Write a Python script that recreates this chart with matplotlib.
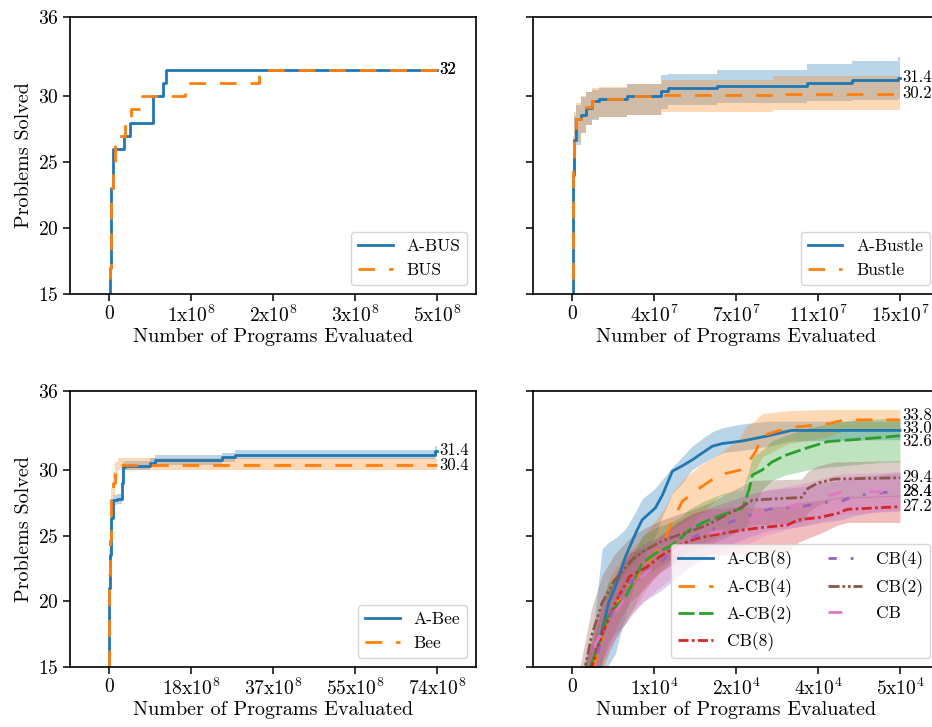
import numpy as np
import matplotlib
matplotlib.use("Agg")
import matplotlib.pyplot as plt

plt.rcParams['font.family'] = 'serif'
plt.rcParams['font.serif'] = ['cmr10', 'DejaVu Serif']
plt.rcParams['mathtext.fontset'] = 'cm'
plt.rcParams['axes.formatter.use_mathtext'] = True
plt.rcParams['axes.unicode_minus'] = False

# ---------------- data ----------------
y_ticks = [15, 20, 25, 30, 36]
x_label = "Number of Programs Evaluated"
y_label = "Problems Solved"

# Top-left: BUS (x in units of 1e8)
tl_scale = 1e8
tl_xmax = 4.6
tl_ticklabels = ['0', '1x10$^{8}$', '2x10$^{8}$', '3x10$^{8}$', '5x10$^{8}$']
abus_x = [0, 0.01, 0.03, 0.06, 0.21, 0.30, 0.61, 0.62, 0.76, 0.795, 4.6]
abus_y = [0, 17, 23, 26, 27, 28, 29, 30, 31, 32, 32]
bus_x = [0, 0.01, 0.03, 0.05, 0.084, 0.224, 0.309, 0.459, 1.066, 2.104, 4.6]
bus_y = [0, 17, 23, 25, 27, 28, 29, 30, 31, 32, 32]

# Top-right: Bustle (x in units of 1e7)
tr_scale = 1e7
tr_xmax = 14.6
tr_ticklabels = ['0', '4x10$^{7}$', '7x10$^{7}$', '11x10$^{7}$', '15x10$^{7}$']
abustle_x = [0, 0.06, 0.1, 0.16, 0.4, 0.62, 0.89, 1.22, 2.45, 3.97, 4.27, 6.46, 10.45, 12.46, 14.5, 14.6]
abustle_y = [0, 24, 26.7, 28.3, 28.6, 29.1, 29.6, 29.8, 30.0, 30.4, 30.6, 30.8, 31.0, 31.2, 31.4, 31.4]
abustle_lo = [0, 21, 24.5, 26.3, 27.2, 27.8, 28.2, 28.4, 28.6, 29.0, 29.3, 29.5, 29.6, 29.7, 29.8, 29.8]
abustle_hi = [0, 26.5, 28.5, 29.3, 29.9, 30.3, 30.5, 30.6, 30.9, 31.6, 31.7, 32.0, 32.4, 32.7, 33.0, 33.0]
bustle_x = [0, 0.06, 0.1, 0.16, 0.4, 0.62, 0.89, 1.22, 2.45, 4.0, 8.96, 14.6]
bustle_y = [0, 24.5, 26.8, 28.3, 28.7, 29.2, 29.6, 29.8, 30.0, 30.1, 30.2, 30.2]
bustle_lo = [0, 22, 25, 26.5, 27.2, 27.8, 28.3, 28.4, 28.6, 28.8, 28.95, 28.95]
bustle_hi = [0, 27, 28.8, 29.5, 30.0, 30.3, 30.6, 30.7, 30.9, 31.2, 31.5, 31.5]

# Bottom-left: Bee (x in units of 1e8)
bl_scale = 1e8
bl_xmax = 73.8
bl_ticklabels = ['0', '18x10$^{8}$', '37x10$^{8}$', '55x10$^{8}$', '74x10$^{8}$']
abee_x = [0, 0.1, 0.3, 0.45, 0.83, 1.73, 2.9, 3.1, 3.6, 9.2, 10.35, 25.4, 28.3, 73.4, 73.8]
abee_y = [0, 21, 23.5, 26.3, 27.7, 27.8, 29.0, 30.2, 30.3, 30.5, 30.75, 30.95, 31.15, 31.4, 31.4]
abee_lo = [0, 19, 22, 25, 27.3, 27.4, 28.5, 29.8, 30.0, 30.2, 30.4, 30.6, 30.8, 31.0, 31.0]
abee_hi = [0, 23, 25, 27.5, 28.1, 28.2, 29.5, 30.6, 30.7, 30.9, 31.1, 31.3, 31.5, 31.8, 31.8]
bee_x = [0, 0.1, 0.2, 0.5, 0.9, 1.35, 2.0, 73.8]
bee_y = [0, 22, 24.7, 27.7, 29.0, 29.8, 30.4, 30.4]
bee_lo = [0, 20, 23, 26.5, 28.0, 29.2, 30.0, 30.0]
bee_hi = [0, 24, 26.5, 28.6, 29.8, 30.6, 30.9, 30.9]

# Bottom-right: CB family (x in units of 1e4)
br_scale = 1e4
br_xmax = 5.0
br_ticklabels = ['0', '1x10$^{4}$', '2x10$^{4}$', '4x10$^{4}$', '5x10$^{4}$']
acb8_x = [0, 0.31, 0.38, 0.46, 0.56, 0.66, 0.815, 0.99, 1.07, 1.27, 1.38, 1.53, 1.68, 1.83, 1.99, 2.14, 2.29, 2.6, 3.0, 3.34, 5.0]
acb8_y = [10, 15, 16.5, 17.8, 19.9, 21.1, 23.4, 25.4, 26.2, 27.1, 28.1, 29.9, 30.3, 30.75, 31.3, 31.8, 32.0, 32.2, 32.6, 33.0, 33.0]
acb8_lo = [8, 13, 13.8, 14.5, 15.2, 16.0, 19.0, 22.0, 23.0, 25.0, 26.5, 28.2, 29.0, 30.0, 30.5, 30.9, 31.3, 31.5, 31.8, 32.2, 32.3]
acb8_hi = [12, 17, 20.5, 24.0, 24.5, 24.8, 25.5, 27.0, 27.8, 28.6, 29.3, 30.2, 31.0, 31.8, 32.4, 32.9, 33.2, 33.5, 33.7, 33.7, 33.7]
acb4_x = [0, 0.33, 0.46, 0.59, 0.8, 1.02, 1.2, 1.4, 1.53, 1.68, 1.94, 2.24, 2.57, 2.65, 2.8, 2.9, 3.3, 3.9, 4.15, 5.0]
acb4_y = [10, 15, 17.3, 19.0, 20.8, 22.0, 23.3, 24.5, 26.1, 27.6, 28.6, 29.6, 30.0, 30.3, 31.4, 32.6, 33.2, 33.5, 33.8, 33.8]
acb4_lo = [8, 13, 14.5, 16.5, 18.5, 20.0, 21.5, 22.5, 23.5, 25.0, 26.5, 28.0, 28.5, 29.0, 30.0, 31.0, 32.0, 32.5, 33.0, 33.0]
acb4_hi = [12, 17, 20.0, 22.0, 23.5, 24.5, 25.7, 27.0, 28.3, 29.2, 30.3, 31.2, 32.5, 33.3, 33.8, 34.3, 34.5, 34.6, 34.6, 34.6]
acb2_x = [0, 0.28, 0.36, 0.46, 0.56, 0.815, 0.97, 1.07, 1.27, 1.5, 1.68, 1.78, 2.0, 2.3, 2.6, 2.7, 2.75, 2.9, 3.05, 3.25, 3.6, 3.9, 4.3, 4.8, 5.0]
acb2_y = [10, 15, 16.1, 17.6, 19.1, 20.3, 21.85, 22.9, 23.65, 24.2, 24.9, 25.4, 26.0, 26.6, 27.1, 28.5, 29.6, 30.0, 30.6, 31.1, 31.7, 32.15, 32.3, 32.5, 32.6]
acb2_lo = [8, 13, 14.0, 15.5, 17.0, 18.3, 19.8, 21.0, 22.0, 22.8, 23.4, 23.9, 24.4, 25.0, 25.5, 26.0, 27.0, 28.5, 29.2, 29.6, 30.0, 30.2, 30.4, 30.6, 30.6]
acb2_hi = [12, 17, 18.5, 20.0, 21.5, 22.5, 24.0, 25.0, 25.6, 26.0, 26.5, 27.0, 27.6, 28.2, 28.5, 30.0, 31.0, 31.5, 32.2, 32.6, 33.2, 33.5, 33.8, 33.9, 33.9]
cb8_x = [0, 0.3, 0.47, 0.68, 0.88, 1.14, 1.34, 1.6, 1.85, 2.1, 2.57, 2.87, 3.28, 3.45, 3.8, 4.05, 4.2, 4.6, 5.0]
cb8_y = [10, 15, 17.6, 20.1, 21.9, 22.6, 23.4, 24.2, 24.7, 25.0, 25.4, 25.6, 25.8, 26.2, 26.4, 26.7, 27.0, 27.1, 27.2]
cb8_lo = [8, 13, 15.6, 18.1, 19.9, 21.1, 22.2, 23.0, 23.3, 23.5, 23.6, 23.7, 23.7, 24.5, 25.2, 25.8, 26.0, 26.0, 26.0]
cb8_hi = [12, 17, 19.6, 22.1, 23.7, 24.1, 24.9, 26.0, 26.7, 27.0, 27.2, 27.1, 27.3, 27.5, 27.7, 27.9, 28.0, 28.0, 28.1]
cb4_x = [0, 0.32, 0.5, 0.7, 0.9, 1.1, 1.35, 1.6, 1.9, 2.2, 2.5, 2.75, 3.0, 3.5, 3.8, 4.1, 4.3, 4.6, 5.0]
cb4_y = [10, 15, 17.8, 20.2, 21.5, 22.2, 23.0, 24.1, 25.0, 25.6, 26.2, 26.6, 27.0, 27.2, 27.5, 27.6, 28.0, 28.2, 28.4]
cb4_lo = [8, 13, 15.5, 17.5, 19.0, 20.0, 20.8, 21.8, 23.0, 23.8, 24.5, 25.0, 25.4, 25.7, 26.0, 26.2, 26.5, 26.8, 26.9]
cb4_hi = [12, 17, 20.0, 22.5, 23.8, 24.4, 25.0, 26.0, 26.8, 27.3, 27.8, 28.2, 28.5, 28.7, 29.0, 29.2, 29.5, 29.6, 29.8]
cb2_x = [0, 0.2, 0.3, 0.46, 0.65, 0.92, 1.12, 1.38, 1.6, 1.85, 2.1, 2.36, 2.6, 2.75, 3.5, 3.6, 3.75, 4.0, 5.0]
cb2_y = [10, 15, 17.4, 19.9, 21.6, 23.2, 23.9, 24.6, 25.0, 25.4, 25.9, 26.6, 27.2, 27.7, 27.9, 28.6, 29.0, 29.3, 29.4]
cb2_lo = [8, 13, 15.0, 17.5, 19.5, 21.2, 22.0, 22.8, 23.3, 23.8, 24.3, 24.9, 25.4, 25.8, 26.0, 26.8, 27.3, 27.8, 28.0]
cb2_hi = [12, 17, 19.5, 22.0, 23.6, 25.0, 25.6, 26.2, 26.6, 27.0, 27.5, 28.2, 28.8, 29.2, 29.3, 29.9, 30.3, 30.6, 30.7]
cb_x = [0, 0.3, 0.36, 0.56, 0.8, 1.05, 1.32, 1.6, 1.94, 2.34, 2.7, 2.93, 3.54, 4.1, 4.76, 5.0]
cb_y = [10, 15, 16.8, 18.4, 20.2, 21.8, 22.9, 23.9, 25.0, 25.4, 26.2, 26.8, 27.5, 28.3, 28.35, 28.4]
cb_lo = [8, 13, 14.8, 16.4, 18.2, 19.8, 21.0, 22.0, 23.0, 23.6, 24.4, 25.0, 25.8, 26.6, 26.8, 26.9]
cb_hi = [12, 17, 18.8, 20.4, 22.2, 23.6, 24.7, 25.7, 26.7, 27.2, 27.9, 28.4, 29.0, 29.7, 29.8, 29.9]

# ---------------- styles ----------------
C = plt.get_cmap('tab10').colors
LS_SOLID = '-'
LS_ORANGE = (0, (6, 5))
LS_GREEN = (0, (5.8, 1.6))
LS_RED = (0, (3.6, 1.2, 1, 1.2))
LS_PURPLE = (0, (3, 5, 1, 5))
LS_BROWN = (0, (4, 1, 1, 1, 1, 1))
LS_PINK = (0, (5, 10))
LW = 2.0
TICK_FS = 14
LABEL_FS = 14.5
LEG_FS = 12.5
VAL_FS = 12

W, H = 932, 727
fig = plt.figure(figsize=(W / 100, H / 100), dpi=100)
ax_w = 406 / W
rects = {
    'tl': [70 / W, 1 - 294 / H, ax_w, 277 / H],
    'tr': [533 / W, 1 - 294 / H, ax_w, 277 / H],
    'bl': [70 / W, 1 - 667 / H, ax_w, 276 / H],
    'br': [533 / W, 1 - 667 / H, ax_w, 276 / H],
}


def setup(ax, xmax, ticklabels, left):
    ax.set_xlim(-0.119 * xmax, 1.119 * xmax)
    ax.set_ylim(15, 36)
    ax.set_xticks(np.linspace(0, xmax, 5))
    ax.set_xticklabels(ticklabels)
    ax.set_yticks(y_ticks)
    if left:
        ax.set_ylabel(y_label, fontsize=LABEL_FS, labelpad=4)
    else:
        ax.set_yticklabels([])
    ax.set_xlabel(x_label, fontsize=LABEL_FS, labelpad=1)
    ax.tick_params(labelsize=TICK_FS, length=5, width=1.1, pad=3)
    for s in ax.spines.values():
        s.set_linewidth(1.2)


def end_labels(ax, xmax, vals, fmt, gap):
    uniq = sorted(set(vals), reverse=True)
    pos = list(uniq)
    for _ in range(200):
        for i in range(1, len(pos)):
            d = pos[i - 1] - pos[i]
            if d < gap:
                push = (gap - d) / 2
                pos[i - 1] += push
                pos[i] -= push
    for v in vals:
        p = pos[uniq.index(v)]
        ax.annotate(fmt.format(v), xy=(xmax, p), xytext=(1.5, 0),
                    textcoords='offset points', va='center', ha='left',
                    fontsize=VAL_FS, annotation_clip=False)


def series(ax, x, y, color, ls, label, lo=None, hi=None, step=True):
    if lo is not None:
        ax.fill_between(x, lo, hi, color=color, alpha=0.3, linewidth=0,
                        step='post' if step else None)
    ax.plot(x, y, color=color, linestyle=ls, linewidth=LW, label=label,
            drawstyle='steps-post' if step else 'default')


# Top-left
ax = fig.add_axes(rects['tl'])
series(ax, abus_x, abus_y, C[0], LS_SOLID, 'A-BUS')
series(ax, bus_x, bus_y, C[1], LS_ORANGE, 'BUS')
setup(ax, tl_xmax, tl_ticklabels, True)
ax.legend(loc='lower right', fontsize=LEG_FS)
end_labels(ax, tl_xmax, [abus_y[-1], bus_y[-1]], '{:.0f}', 1.1)

# Top-right
ax = fig.add_axes(rects['tr'])
series(ax, abustle_x, abustle_y, C[0], LS_SOLID, 'A-Bustle', abustle_lo, abustle_hi)
series(ax, bustle_x, bustle_y, C[1], LS_ORANGE, 'Bustle', bustle_lo, bustle_hi)
setup(ax, tr_xmax, tr_ticklabels, False)
ax.legend(loc='lower right', fontsize=LEG_FS)
end_labels(ax, tr_xmax, [abustle_y[-1], bustle_y[-1]], '{:.1f}', 1.1)

# Bottom-left
ax = fig.add_axes(rects['bl'])
series(ax, abee_x, abee_y, C[0], LS_SOLID, 'A-Bee', abee_lo, abee_hi)
series(ax, bee_x, bee_y, C[1], LS_ORANGE, 'Bee', bee_lo, bee_hi)
setup(ax, bl_xmax, bl_ticklabels, True)
ax.legend(loc='lower right', fontsize=LEG_FS)
end_labels(ax, bl_xmax, [abee_y[-1], bee_y[-1]], '{:.1f}', 1.1)

# Bottom-right
ax = fig.add_axes(rects['br'])
br_series = [
    (acb8_x, acb8_y, acb8_lo, acb8_hi, C[0], LS_SOLID, 'A-CB(8)'),
    (acb4_x, acb4_y, acb4_lo, acb4_hi, C[1], LS_ORANGE, 'A-CB(4)'),
    (acb2_x, acb2_y, acb2_lo, acb2_hi, C[2], LS_GREEN, 'A-CB(2)'),
    (cb8_x, cb8_y, cb8_lo, cb8_hi, C[3], LS_RED, 'CB(8)'),
    (cb4_x, cb4_y, cb4_lo, cb4_hi, C[4], LS_PURPLE, 'CB(4)'),
    (cb2_x, cb2_y, cb2_lo, cb2_hi, C[5], LS_BROWN, 'CB(2)'),
    (cb_x, cb_y, cb_lo, cb_hi, C[6], LS_PINK, 'CB'),
]
for x, y, lo, hi, col, ls, lab in br_series:
    series(ax, x, y, col, ls, lab, lo, hi, step=False)
setup(ax, br_xmax, br_ticklabels, False)
ax.legend(loc='lower right', fontsize=LEG_FS, ncol=2)
end_labels(ax, br_xmax, [s[1][-1] for s in br_series], '{:.1f}', 1.0)

fig.savefig('out.png', dpi=100)
